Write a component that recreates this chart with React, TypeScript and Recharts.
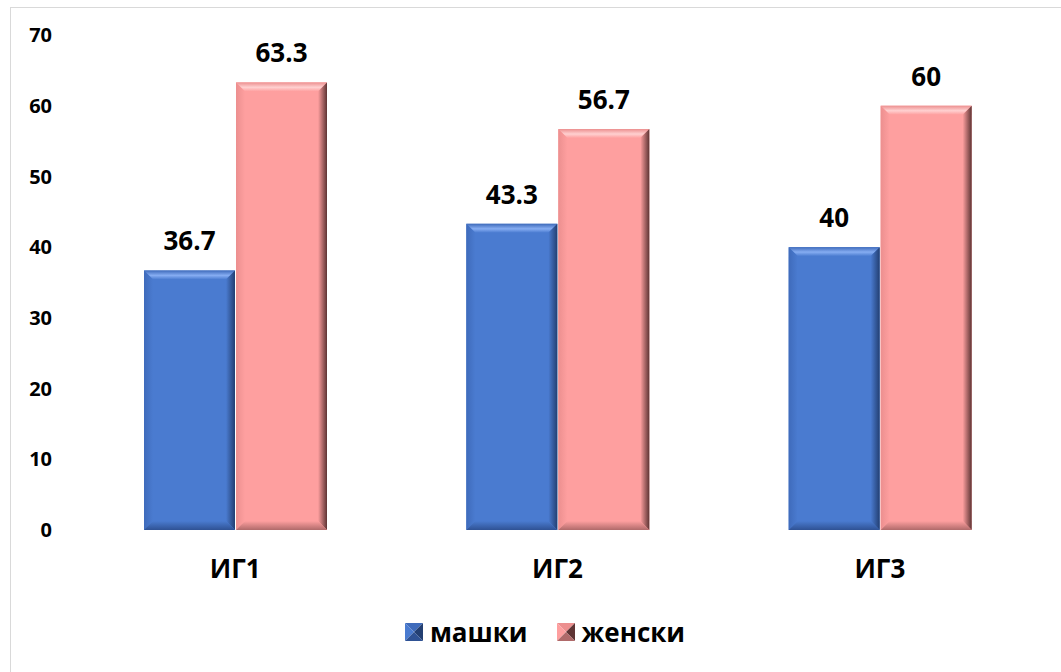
import React from "react";
import {
  BarChart,
  Bar,
  XAxis,
  YAxis,
  Legend,
  LabelList,
} from "recharts";

const categories = ["ИГ1", "ИГ2", "ИГ3"];
const maleValues = [36.7, 43.3, 40];
const femaleValues = [63.3, 56.7, 60];
const yTicks = [0, 10, 20, 30, 40, 50, 60, 70];
const seriesNames = ["машки", "женски"];

const data = categories.map((name, i) => ({
  name,
  male: maleValues[i],
  female: femaleValues[i],
}));

const FONT = "'Open Sans', 'Noto Sans', sans-serif";

type Palette = {
  id: string;
  face: string;
  light: string;
  side: string;
  dark: string;
  bottom: string;
};

const blue: Palette = {
  id: "blue",
  face: "#4a7bd0",
  light: "#86adf2",
  side: "#3f6bbb",
  dark: "#233f72",
  bottom: "#2f5294",
};

const pink: Palette = {
  id: "pink",
  face: "#fe9f9f",
  light: "#ffd0d0",
  side: "#ec8f8f",
  dark: "#5e3434",
  bottom: "#b06a6a",
};

const Gradients = ({ p }: { p: Palette }) => (
  <>
    <linearGradient id={`${p.id}-top`} x1="0" y1="0" x2="0" y2="1">
      <stop offset="0%" stopColor={p.side} />
      <stop offset="55%" stopColor={p.light} />
      <stop offset="100%" stopColor={p.face} />
    </linearGradient>
    <linearGradient id={`${p.id}-left`} x1="0" y1="0" x2="1" y2="0">
      <stop offset="0%" stopColor={p.side} />
      <stop offset="100%" stopColor={p.face} />
    </linearGradient>
    <linearGradient id={`${p.id}-right`} x1="0" y1="0" x2="1" y2="0">
      <stop offset="0%" stopColor={p.face} />
      <stop offset="100%" stopColor={p.dark} />
    </linearGradient>
    <linearGradient id={`${p.id}-bottom`} x1="0" y1="0" x2="0" y2="1">
      <stop offset="0%" stopColor={p.face} />
      <stop offset="100%" stopColor={p.bottom} />
    </linearGradient>
  </>
);

// bar with a soft bevelled edge on every side
const bevelShape = (p: Palette) => (props: any) => {
  const { x, y, width: w, height: h } = props;
  if (!w || !h) return <g />;
  const b = Math.min(9, w / 2, h / 2);
  const pts = (a: number[][]) => a.map((q) => q.join(",")).join(" ");
  return (
    <g>
      <rect x={x} y={y} width={w} height={h} fill={p.face} />
      <polygon
        points={pts([[x, y], [x + w, y], [x + w - b, y + b], [x + b, y + b]])}
        fill={`url(#${p.id}-top)`}
      />
      <polygon
        points={pts([[x, y], [x + b, y + b], [x + b, y + h - b], [x, y + h]])}
        fill={`url(#${p.id}-left)`}
      />
      <polygon
        points={pts([[x + w, y], [x + w, y + h], [x + w - b, y + h - b], [x + w - b, y + b]])}
        fill={`url(#${p.id}-right)`}
      />
      <polygon
        points={pts([[x, y + h], [x + b, y + h - b], [x + w - b, y + h - b], [x + w, y + h]])}
        fill={`url(#${p.id}-bottom)`}
      />
    </g>
  );
};

const LegendIcon = ({ p }: { p: Palette }) => (
  <svg width={18} height={18}>
    <polygon points="0,0 18,0 9,9" fill={p.side} />
    <polygon points="0,0 9,9 0,18" fill={p.face} />
    <polygon points="18,0 18,18 9,9" fill={p.dark} />
    <polygon points="0,18 9,9 18,18" fill={p.bottom} />
  </svg>
);

const renderLegend = () => (
  <div
    style={{
      display: "flex",
      justifyContent: "center",
      alignItems: "center",
      paddingLeft: 29,
      fontFamily: FONT,
    }}
  >
    {[blue, pink].map((p, i) => (
      <div
        key={p.id}
        style={{ display: "flex", alignItems: "center", marginLeft: i ? 29 : 0 }}
      >
        <LegendIcon p={p} />
        <span style={{ marginLeft: 7, fontSize: 26, fontWeight: 700, color: "#000" }}>
          {seriesNames[i]}
        </span>
      </div>
    ))}
  </div>
);

const labelStyle = { fontSize: 26, fontWeight: 700, fill: "#000", fontFamily: FONT };

export default function App() {
  return (
    <div
      style={{
        position: "absolute",
        left: 0,
        top: 0,
        width: 1061,
        height: 672,
        background: "#fff",
        overflow: "hidden",
      }}
    >
      <svg width={0} height={0} style={{ position: "absolute" }}>
        <defs>
          <Gradients p={blue} />
          <Gradients p={pink} />
        </defs>
      </svg>
      <div
        style={{
          position: "absolute",
          left: 10,
          top: 7,
          width: 1080,
          height: 700,
          border: "1px solid #d9d9d9",
        }}
      />
      <div style={{ position: "absolute", left: 0, top: 0 }}>
        <BarChart
          width={1061}
          height={672}
          data={data}
          margin={{ top: 35, right: 20, left: 0, bottom: 52 }}
          barGap={1}
        >
          <XAxis
            dataKey="name"
            axisLine={false}
            tickLine={false}
            tickSize={0}
            tickMargin={30}
            height={50}
            tick={{ fontSize: 26, fontWeight: 700, fill: "#000", fontFamily: FONT }}
          />
          <YAxis
            width={74}
            domain={[0, 70]}
            ticks={yTicks}
            axisLine={false}
            tickLine={false}
            tickSize={0}
            tickMargin={22}
            tick={{ fontSize: 20, fontWeight: 700, fill: "#000", fontFamily: FONT }}
          />
          <Legend
            content={renderLegend}
            wrapperStyle={{ left: 0, width: 1061, top: 614, height: 40 }}
          />
          <Bar
            dataKey="male"
            name={seriesNames[0]}
            fill={blue.face}
            barSize={91}
            shape={bevelShape(blue)}
            isAnimationActive={false}
          >
            <LabelList dataKey="male" position="top" offset={20} style={labelStyle} />
          </Bar>
          <Bar
            dataKey="female"
            name={seriesNames[1]}
            fill={pink.face}
            barSize={91}
            shape={bevelShape(pink)}
            isAnimationActive={false}
          >
            <LabelList dataKey="female" position="top" offset={20} style={labelStyle} />
          </Bar>
        </BarChart>
      </div>
    </div>
  );
}
